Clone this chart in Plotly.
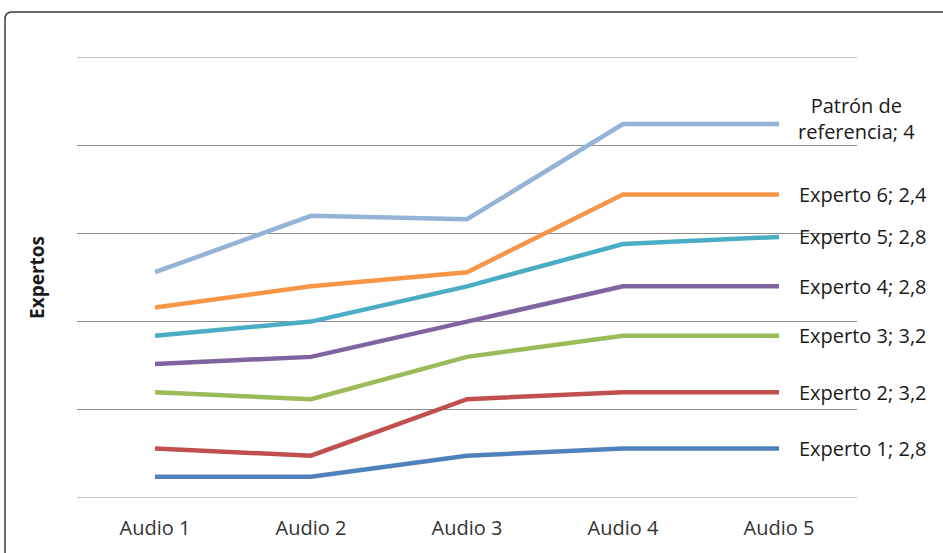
import plotly.graph_objects as go
import numpy as np

categories = ["Audio 1", "Audio 2", "Audio 3", "Audio 4", "Audio 5"]
series_names = ["Experto 1", "Experto 2", "Experto 3", "Experto 4", "Experto 5", "Experto 6", "Patrón de referencia"]
experto1 = [1.2, 1.2, 2.4, 2.8, 2.8]
experto2 = [1.6, 1.2, 3.2, 3.2, 3.2]
experto3 = [3.2, 3.2, 2.4, 3.2, 3.2]
experto4 = [1.6, 2.4, 2.0, 2.8, 2.8]
experto5 = [1.6, 2.0, 2.0, 2.4, 2.8]
experto6 = [1.6, 2.0, 0.8, 2.8, 2.4]
patron = [2.0, 4.0, 3.0, 4.0, 4.0]
end_labels = ["Experto 1; 2,8", "Experto 2; 3,2", "Experto 3; 3,2", "Experto 4; 2,8",
              "Experto 5; 2,8", "Experto 6; 2,4", "Patrón de<br>referencia; 4"]
y_ticks = [0, 5, 10, 15, 20, 25]

colors = ["#4F81BD", "#C0504D", "#9BBB59", "#8064A2", "#4BACC6", "#F79646", "#95B3D7"]
all_series = [experto1, experto2, experto3, experto4, experto5, experto6, patron]

FONT = "Open Sans"
GRID = "#8c8c8c"
fig = go.Figure()
cum = np.zeros(len(categories))
for name, vals, col, lab in zip(series_names, all_series, colors, end_labels):
    cum = cum + np.array(vals)
    fig.add_trace(go.Scatter(x=categories, y=cum.tolist(), mode="lines", name=name,
                             line=dict(color=col, width=4.5), showlegend=False))
    is_patron = name.startswith("Patrón")
    fig.add_annotation(x=categories[-1], y=float(cum[-1]), xref="x", yref="y",
                       text=lab, showarrow=False, xanchor="left", yanchor="middle",
                       align="center", xshift=17 if is_patron else 18,
                       yshift=6 if is_patron else 0,
                       font=dict(family=FONT, size=20, color="#1a1a1a"))

# edge gridlines (at range limits, which plotly does not draw)
for v in (y_ticks[0], y_ticks[-1]):
    fig.add_shape(type="line", xref="paper", yref="y", x0=0, x1=1, y0=v, y1=v,
                  line=dict(color=GRID, width=1), layer="below")

# chart border (rounded top-left corner)
x0, yt, xr, yb = -0.0923, 1.102, 1.12, -0.14
rx, ry = 0.009, 0.016
fig.add_shape(type="path", xref="paper", yref="paper",
              path=f"M {x0},{yb} L {x0},{yt-ry} Q {x0},{yt} {x0+rx},{yt} L {xr},{yt}",
              line=dict(color="#3a3a3a", width=1.5))

fig.update_layout(
    width=943, height=553,
    margin=dict(l=77, r=86, t=57, b=55),
    paper_bgcolor="white", plot_bgcolor="white",
    xaxis=dict(range=[-0.5, 4.5], showgrid=False, zeroline=False, showline=False,
               ticks="", ticklabelstandoff=16,
               tickfont=dict(family=FONT, size=20, color="#333333")),
    yaxis=dict(range=[0, 25], tickvals=y_ticks, showticklabels=False, showgrid=True,
               gridcolor=GRID, gridwidth=1, zeroline=False, showline=False,
               title=dict(text="<b>Expertos</b>", font=dict(family=FONT, size=19, color="#1a1a1a"),
                          standoff=26)),
)
fig.write_html("out.html")
